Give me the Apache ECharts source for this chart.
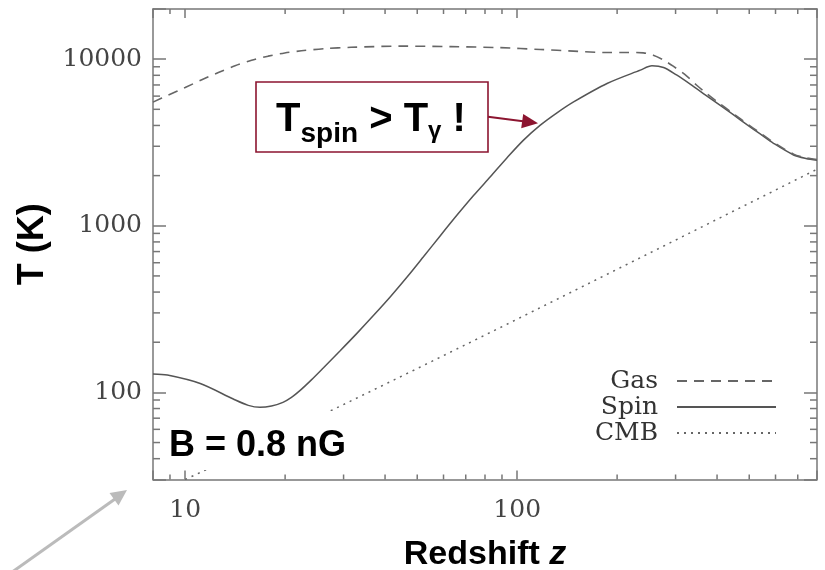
<!DOCTYPE html>
<html>
<head>
<meta charset="utf-8">
<script src="https://cdn.jsdelivr.net/npm/echarts@6/dist/echarts.min.js"></script>
<style>
  html, body { margin: 0; padding: 0; background: #fff; }
  #main { width: 825px; height: 570px; }
</style>
</head>
<body>
<div id="main"></div>
<script>
// axis ranges and ticks
var xMin = 8, xMax = 800;
var yMin = 30, yMax = 20000;
var xTickLabels = [10, 100];
var yTickLabels = [100, 1000, 10000];
var xMinorTicks = [9, 20, 30, 40, 50, 60, 70, 80, 90, 200, 300, 400, 500, 600, 700];
var yMinorTicks = [40, 50, 60, 70, 80, 90, 200, 300, 400, 500, 600, 700, 800, 900,
                   2000, 3000, 4000, 5000, 6000, 7000, 8000, 9000];

var gasZ = [8.0, 8.91, 10, 11.22, 12.59, 14.13, 15.85, 17.78, 19.95, 22.39, 26.3, 31.6, 44.7, 63.1, 89.1,
            117.5, 147.9, 186.2, 213.8, 239.9, 257, 275.4, 295.1, 323.6, 346.7, 371.5, 398.1,
            448.7, 492, 539.5, 591.6, 680, 741, 800];
var gasT = [5521, 6095, 6761, 7516, 8318, 9120, 9840, 10423, 10890, 11220, 11560, 11780, 11970, 11890, 11720,
            11430, 11170, 10965, 10965, 10914, 10570, 9908, 9078, 7943, 6998, 6237, 5598,
            4699, 4102, 3606, 3170, 2692, 2564, 2500];

var spinZ = [8.0, 8.84, 11.1, 13.96, 15.49, 16.8, 18.2, 19.7, 20.9, 22.2, 24.0, 26.1, 29.3, 32.9, 36.95,
             41.5, 46.6, 52.2, 58.6, 65.9, 74, 83, 93.1, 104.5, 117.4, 131.8, 147.9, 186.5, 234.9,
             254.7, 276, 302, 332, 368.5, 409, 448.7, 492, 539.5, 591.6, 680, 741, 800];
var spinT = [129, 127, 113, 91.2, 83.6, 81.3, 82.8, 87.1, 93.3, 102.8, 118.9, 140.6, 177.8, 226, 290,
             375, 492, 651, 869, 1159, 1524, 1968, 2553, 3266, 4018, 4764, 5540, 7145, 8590,
             9120, 8913, 8035, 7080, 6110, 5272, 4624, 4046, 3556, 3126, 2661, 2535, 2477];

var cmbZ = [10, 20, 50, 100, 200, 400, 800];
var cmbT = [30, 57, 139, 275, 548, 1093, 2183];

var legendNames = ['Gas', 'Spin', 'CMB'];

var axisColor = '#777';
var serif = 'DejaVu Serif';
var sans = 'Liberation Sans';
var maroon = '#8c1530';

function pairs(xs, ys) {
  return xs.map(function (x, i) { return [x, ys[i]]; });
}
function labelFmt(list) {
  return function (v) {
    var r = Math.round(v);
    return list.indexOf(r) >= 0 ? String(r) : '';
  };
}

function xAx(pos, showLabel) {
  return {
    type: 'log', logBase: 10, position: pos, min: xMin, max: xMax,
    axisLine: { show: true, onZero: false, lineStyle: { color: axisColor, width: 1.5 } },
    axisTick: { show: true, inside: true, length: 9, lineStyle: { color: axisColor, width: 1.5 } },
    minorTick: { show: false },
    splitLine: { show: false },
    axisLabel: { show: showLabel, margin: 18, formatter: labelFmt(xTickLabels),
      fontFamily: serif, fontSize: 25, color: '#444' }
  };
}
function yAx(pos, showLabel) {
  return {
    type: 'log', logBase: 10, position: pos, min: yMin, max: yMax,
    axisLine: { show: true, onZero: false, lineStyle: { color: axisColor, width: 1.5 } },
    axisTick: { show: true, inside: true, length: 13, lineStyle: { color: axisColor, width: 1.5 } },
    minorTick: { show: false },
    splitLine: { show: false },
    axisLabel: { show: showLabel, margin: 11, formatter: labelFmt(yTickLabels),
      fontFamily: serif, fontSize: 25, color: '#444' }
  };
}

var xBottom = xAx('bottom', true);
xBottom.name = '{a|Redshift }{b|z}';
xBottom.nameLocation = 'middle';
xBottom.nameGap = 58;
xBottom.nameTextStyle = {
  rich: {
    a: { fontFamily: sans, fontWeight: 'bold', fontSize: 34, color: '#000' },
    b: { fontFamily: sans, fontWeight: 'bold', fontStyle: 'italic', fontSize: 34, color: '#000' }
  }
};
var yLeft = yAx('left', true);
yLeft.name = 'T (K)';
yLeft.nameLocation = 'middle';
yLeft.nameGap = 100;
yLeft.nameTextStyle = { fontFamily: sans, fontWeight: 'bold', fontSize: 36, color: '#000' };

var dom = document.getElementById('main');
var myChart = echarts.init(dom, null, { renderer: 'canvas' });

var option = {
  animation: false,
  backgroundColor: '#fff',
  grid: { left: 153, right: 8, top: 9, bottom: 90.5, containLabel: false, outerBoundsMode: 'none' },
  xAxis: [xBottom, xAx('top', false)],
  yAxis: [yLeft, yAx('right', false)],
  legend: {
    data: legendNames,
    orient: 'vertical', align: 'right',
    right: 48, top: 368, padding: 0,
    itemWidth: 99, itemHeight: 14, itemGap: 0,
    selectedMode: false,
    itemStyle: { color: 'rgba(0,0,0,0)', borderColor: 'rgba(0,0,0,0)', borderWidth: 0 },
    textStyle: { fontFamily: serif, fontSize: 25, color: '#333', lineHeight: 26, padding: [0, 14, 0, 0] }
  },
  series: [
    {
      name: 'Gas', type: 'line', data: pairs(gasZ, gasT), symbol: 'none', smooth: 0.3, z: 4,
      lineStyle: { color: '#666', width: 1.6, type: [10, 7] }, itemStyle: { color: '#666' }
    },
    {
      name: 'Spin', type: 'line', data: pairs(spinZ, spinT), symbol: 'none', smooth: 0.3, z: 3,
      lineStyle: { color: '#555', width: 1.5, type: 'solid' }, itemStyle: { color: '#555' }
    },
    {
      name: 'CMB', type: 'line', data: pairs(cmbZ, cmbT), symbol: 'none', smooth: false, z: 3,
      lineStyle: { color: '#666', width: 1.5, type: [2, 5] }, itemStyle: { color: '#666' }
    }
  ]
};

myChart.setOption(option);

// minor ticks at 2..9 of each decade, placed by the axes' own scales
function tickLine(x1, y1, x2, y2) {
  return { type: 'line', z: 5, silent: true,
    shape: { x1: x1, y1: y1, x2: x2, y2: y2 },
    style: { stroke: axisColor, lineWidth: 1.5 } };
}
var gx0 = myChart.convertToPixel({ xAxisIndex: 0 }, xMin);
var gx1 = myChart.convertToPixel({ xAxisIndex: 0 }, xMax);
var gy0 = myChart.convertToPixel({ yAxisIndex: 0 }, yMin);
var gy1 = myChart.convertToPixel({ yAxisIndex: 0 }, yMax);
var minor = [];
xMinorTicks.forEach(function (v) {
  var px = myChart.convertToPixel({ xAxisIndex: 0 }, v);
  minor.push(tickLine(px, gy0, px, gy0 - 5));
  minor.push(tickLine(px, gy1, px, gy1 + 5));
});
yMinorTicks.forEach(function (v) {
  var py = myChart.convertToPixel({ yAxisIndex: 0 }, v);
  minor.push(tickLine(gx0, py, gx0 + 7, py));
  minor.push(tickLine(gx1, py, gx1 - 7, py));
});

var notes = [
  // white patch behind the field label
  { type: 'rect', z: 100, silent: true, shape: { x: 162, y: 411, width: 200, height: 59 },
    style: { fill: '#fff' } },
  { type: 'text', z: 101, x: 169, y: 445.7,
    style: { text: 'B = 0.8 nG', fontFamily: sans, fontWeight: 'bold', fontSize: 36,
      fill: '#000', align: 'left', verticalAlign: 'middle' } },
  // the boxed remark
  { type: 'rect', z: 100, shape: { x: 256, y: 82, width: 232, height: 70 },
    style: { fill: '#fff', stroke: maroon, lineWidth: 1.6 } },
  { type: 'text', z: 101, x: 371, y: 107.8,
    style: {
      text: '{b|T}{s|spin}{b| > T}{g|γ}{b| !}',
      align: 'center', verticalAlign: 'top',
      rich: {
        b: { fontFamily: sans, fontWeight: 'bold', fontSize: 40, lineHeight: 40, verticalAlign: 'bottom', padding: [0, 0, 8, 0], fill: '#000' },
        s: { fontFamily: sans, fontWeight: 'bold', fontSize: 28, lineHeight: 28, verticalAlign: 'bottom', fill: '#000' },
        g: { fontFamily: sans, fontWeight: 'bold', fontSize: 24, lineHeight: 24, verticalAlign: 'bottom', padding: [0, 0, 4, 0], fill: '#000' }
      }
    } },
  { type: 'line', z: 101, shape: { x1: 488, y1: 116.7, x2: 523, y2: 121.3 },
    style: { stroke: maroon, lineWidth: 2 } },
  { type: 'polygon', z: 101, shape: { points: [[538, 123.3], [521.2, 128.3], [523.2, 114.1]] },
    style: { fill: maroon } },
  // grey pointer in the lower left corner
  { type: 'line', z: 101, shape: { x1: 8, y1: 575, x2: 115, y2: 499 },
    style: { stroke: '#bbb', lineWidth: 3 } },
  { type: 'polygon', z: 101, shape: { points: [[127, 490], [118.5, 505.5], [109.5, 493]] },
    style: { fill: '#bbb' } }
];

myChart.setOption({ graphic: notes.concat(minor) });

window.addEventListener('resize', myChart.resize);
</script>
</body>
</html>
